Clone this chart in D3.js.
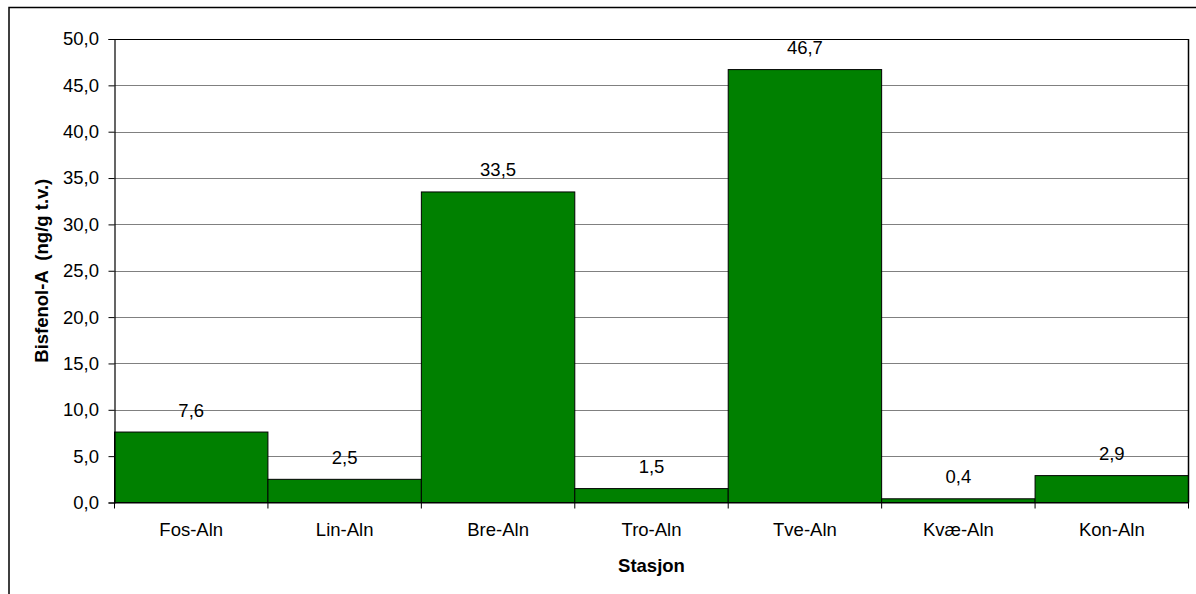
<!DOCTYPE html>
<html><head><meta charset="utf-8">
<script src="https://cdn.jsdelivr.net/npm/d3@7"></script>
<style>body{margin:0;background:#fff}svg{display:block}text{font-family:"Liberation Sans",Arial,sans-serif}</style>
</head><body><svg id="c" width="1196" height="594"></svg>
<script>
const categories = ["Fos-Aln","Lin-Aln","Bre-Aln","Tro-Aln","Tve-Aln","Kvæ-Aln","Kon-Aln"];
const values = [7.6, 2.5, 33.5, 1.5, 46.7, 0.4, 2.9];
const yTicks = [0,5,10,15,20,25,30,35,40,45,50];
const yTitle = "Bisfenol-A  (ng/g t.v.)";
const xTitle = "Stasjon";

const FS = 18.5;
const svg = d3.select("#c");
const L=114.5, R=1188.5, T=39, B=502.5;
const fmt = v => d3.format(".1f")(v).replace(".", ",");

// outer frame
svg.append("rect").attr("x",9).attr("y",7.5).attr("width",1300).attr("height",700)
  .attr("fill","#fff").attr("stroke","#000").attr("stroke-width",1.5);

const x = d3.scaleBand().domain(categories).range([L,R]).padding(0);
const y = d3.scaleLinear().domain([0,50]).range([B,T]);

// gridlines
svg.append("g").selectAll("line").data(yTicks.filter(d=>d>0)).join("line")
  .attr("x1",L).attr("x2",R).attr("y1",d=>Math.round(y(d))+0.5).attr("y2",d=>Math.round(y(d))+0.5)
  .attr("stroke",d=>d===50?"#000":"#808080").attr("stroke-width",1);

// bars
svg.append("g").selectAll("rect").data(values).join("rect")
  .attr("x",(d,i)=>x(categories[i])).attr("width",x.bandwidth())
  .attr("y",d=>y(d)).attr("height",d=>B-y(d))
  .attr("fill","#008000").attr("stroke","#000").attr("stroke-width",1);

// value labels
svg.append("g").selectAll("text").data(values).join("text")
  .attr("x",(d,i)=>x(categories[i])+x.bandwidth()/2).attr("y",d=>y(d)-15.5)
  .attr("text-anchor","middle").attr("font-size",FS).attr("fill","#000").text(d=>fmt(d));

// plot frame right
svg.append("line").attr("x1",R).attr("x2",R).attr("y1",T).attr("y2",B).attr("stroke","#000").attr("stroke-width",1.5);

// y axis
const ya = d3.axisLeft(y).tickValues(yTicks).tickSize(6).tickPadding(9.5).tickFormat(fmt);
const gy = svg.append("g").attr("transform",`translate(${L},0)`).call(ya);
gy.select(".domain").attr("stroke","#000").attr("stroke-width",1.2);
gy.selectAll("text").attr("font-size",FS).attr("font-family","Liberation Sans, Arial, sans-serif").attr("fill","#000");

// x axis
const xa = d3.axisBottom(x).tickSize(0).tickPadding(20.5);
const gx = svg.append("g").attr("transform",`translate(0,${B})`).call(xa);
gx.select(".domain").attr("stroke","#000").attr("stroke-width",1.2);
gx.selectAll("text").attr("font-size",FS).attr("font-family","Liberation Sans, Arial, sans-serif").attr("fill","#000");
// boundary ticks
const bounds = categories.map(c=>x(c)).concat([R]);
svg.append("g").selectAll("line").data(bounds).join("line")
  .attr("x1",d=>d).attr("x2",d=>d).attr("y1",B).attr("y2",B+6).attr("stroke","#000");

// titles
svg.append("text").attr("x",(L+R)/2).attr("y",571.5).attr("text-anchor","middle")
  .attr("font-size",FS).attr("font-weight","bold").text(xTitle);
svg.append("text").attr("transform",`translate(48,${(T+B)/2}) rotate(-90)`).attr("text-anchor","middle")
  .attr("font-size",FS).attr("font-weight","bold").style("white-space","pre").text(yTitle);
</script></body></html>
